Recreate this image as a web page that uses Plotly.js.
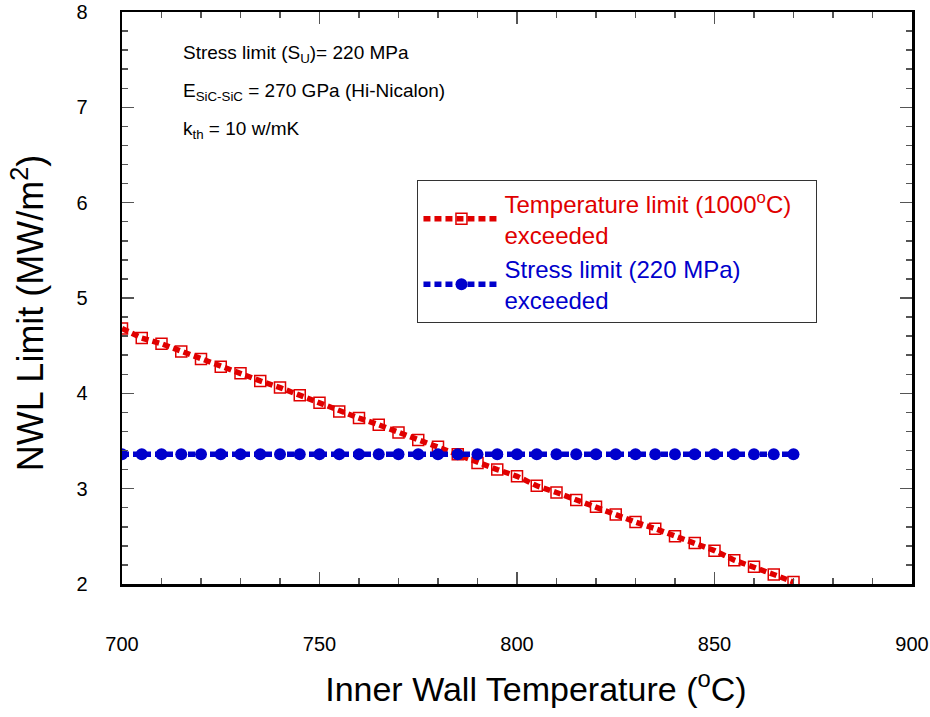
<!DOCTYPE html>
<html>
<head>
<meta charset="utf-8">
<script src="https://cdn.plot.ly/plotly-3.0.1.min.js"></script>
<style>html,body{margin:0;padding:0;background:#fff}#chart{width:930px;height:717px}</style>
</head>
<body>
<div id="chart"></div>
<script>
// Inner wall temperature (°C)
const temperature = [700,705,710,715,720,725,730,735,740,745,750,755,760,765,770,775,780,785,790,795,800,805,810,815,820,825,830,835,840,845,850,855,860,865,870];
// NWL limit where temperature limit (1000 °C) exceeded
const tempLimitNWL = [4.68,4.58,4.52,4.44,4.36,4.28,4.21,4.13,4.06,3.98,3.90,3.81,3.74,3.67,3.59,3.51,3.44,3.36,3.27,3.20,3.13,3.03,2.96,2.88,2.81,2.73,2.65,2.58,2.50,2.43,2.35,2.25,2.18,2.10,2.02];
// NWL limit where stress limit (220 MPa) exceeded
const stressLimitNWL = [3.36,3.36,3.36,3.36,3.36,3.36,3.36,3.36,3.36,3.36,3.36,3.36,3.36,3.36,3.36,3.36,3.36,3.36,3.36,3.36,3.36,3.36,3.36,3.36,3.36,3.36,3.36,3.36,3.36,3.36,3.36,3.36,3.36,3.36,3.36];
const xTicks = [700,750,800,850,900];
const yTicks = [2,3,4,5,6,7,8];

const red = '#e00000', blue = '#0000cc';
const font = 'Arial, "Liberation Sans", sans-serif';

const traces = [
  {x: temperature, y: tempLimitNWL, type: 'scatter', mode: 'lines+markers',
   name: '<span style="color:' + red + '">Temperature limit (1000<sup>o</sup>C)&nbsp;&nbsp;&nbsp;<br>exceeded</span>',
   line: {color: red, width: 5.5, dash: '7px,4px'},
   marker: {symbol: 'square-open', size: 11, color: red, line: {color: red, width: 1.5}}},
  {x: temperature, y: stressLimitNWL, type: 'scatter', mode: 'lines+markers',
   name: '<span style="color:' + blue + '">Stress limit (220 MPa)<br>exceeded</span>',
   line: {color: blue, width: 5.5, dash: '7px,4px'},
   marker: {symbol: 'circle', size: 12, color: blue}}
];

const layout = {
  width: 930, height: 717,
  margin: {l: 122, r: 18, t: 12, b: 133},
  paper_bgcolor: '#fff', plot_bgcolor: '#fff',
  font: {family: font, size: 20, color: '#000'},
  showlegend: true,
  legend: {x: 0.374, y: 0.706, xanchor: 'left', yanchor: 'top',
    bgcolor: '#fff', bordercolor: '#333', borderwidth: 1,
    font: {family: font, size: 24}, itemwidth: 76,
    tracegroupgap: 0},
  xaxis: {range: [700, 900], tickvals: xTicks, ticks: 'inside', ticklen: 12, tickwidth: 1.5, tickcolor: '#555',
    minor: {dtick: 10, ticks: 'inside', ticklen: 6, tickwidth: 1.5, tickcolor: '#555'},
    showline: true, linecolor: '#000', linewidth: 2.5, mirror: 'allticks', showgrid: false, zeroline: false,
    ticklabelstandoff: 40, ticklabeloverflow: 'allow', tickfont: {size: 20},
    title: {text: '&nbsp;&nbsp;&nbsp;&nbsp;Inner Wall Temperature (<sup>o</sup>C)', font: {size: 34}, standoff: 24}},
  yaxis: {range: [2, 8], tickvals: yTicks, ticks: 'inside', ticklen: 12, tickwidth: 1.5, tickcolor: '#555',
    minor: {dtick: 0.2, ticks: 'inside', ticklen: 6, tickwidth: 1.5, tickcolor: '#555'},
    showline: true, linecolor: '#000', linewidth: 2.5, mirror: 'allticks', showgrid: false, zeroline: false,
    ticklabelstandoff: 28, tickfont: {size: 20},
    title: {text: 'NWL Limit (MW/m<sup>2</sup>)&nbsp;&nbsp;&nbsp;', font: {size: 36}, standoff: 22}},
  annotations: [
    {xref: 'paper', yref: 'paper', x: 0.075, y: 0.927, xanchor: 'left', yanchor: 'middle', showarrow: false,
     text: 'Stress limit (S<sub>U</sub>)= 220 MPa', font: {size: 19}},
    {xref: 'paper', yref: 'paper', x: 0.075, y: 0.86, xanchor: 'left', yanchor: 'middle', showarrow: false,
     text: 'E<sub>SiC-SiC</sub> = 270 GPa (Hi-Nicalon)', font: {size: 19}},
    {xref: 'paper', yref: 'paper', x: 0.075, y: 0.793, xanchor: 'left', yanchor: 'middle', showarrow: false,
     text: 'k<sub>th</sub> = 10 w/mK', font: {size: 19}}
  ]
};

Plotly.newPlot('chart', traces, layout, {displayModeBar: false, staticPlot: true});
</script>
</body>
</html>
